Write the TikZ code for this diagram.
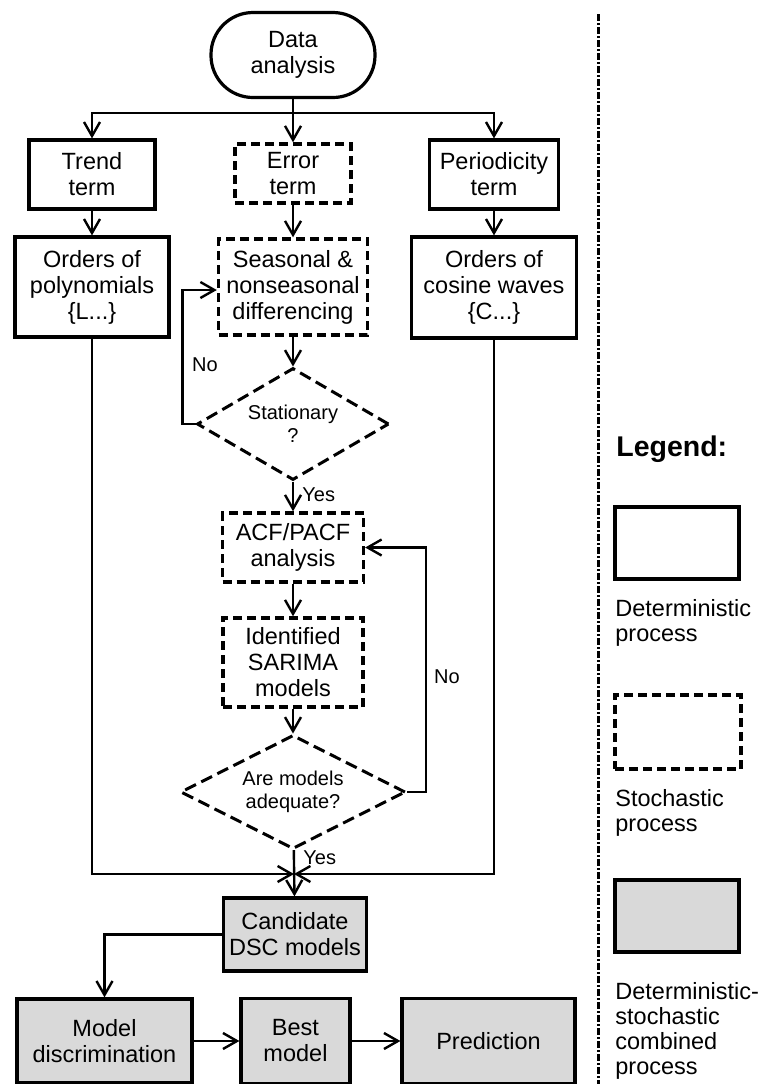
\documentclass[tikz,border=0pt]{standalone}
\usepackage{fontspec}
\setmainfont{Liberation Sans}
\usetikzlibrary{arrows.meta,shapes.geometric}

\definecolor{boxgray}{HTML}{D9D9D9}

\tikzset{
  proc/.style={draw, line width=1.6pt, align=center, inner sep=1pt,
    font=\fontsize{11.75pt}{13pt}\selectfont},
  stoch/.style={proc, line width=1.7pt, dash pattern=on 4.5pt off 2.5pt},
  comb/.style={proc, fill=boxgray},
  decide/.style={diamond, draw, line width=1.5pt, dash pattern=on 6pt off 3pt,
    aspect=2, inner sep=0pt, align=center, font=\fontsize{10pt}{11.5pt}\selectfont},
  flow/.style={line width=1.2pt, -{Straight Barb[length=7pt,width=8pt]}},
  link/.style={line width=1.2pt},
  lbl/.style={inner sep=0pt, font=\fontsize{10pt}{12pt}\selectfont},
  legtxt/.style={inner sep=0pt, align=left, font=\fontsize{11.75pt}{12.5pt}\selectfont},
}

\begin{document}
\begin{tikzpicture}[x=0.5pt,y=-0.5pt]
\useasboundingbox (0,0) rectangle (758,1084);

% three branches
\node[proc, rounded corners=21pt, minimum width=82pt, minimum height=42.5pt] (data) at (293,55) {Data\\analysis};
\node[proc, minimum width=63pt, minimum height=34.5pt] (trend) at (92,174.5) {Trend\\term};
\node[stoch, minimum width=58pt, minimum height=29.5pt] (error) at (293,173.5) {Error\\term};
\node[proc, minimum width=64.5pt, minimum height=34.5pt] (period) at (494,174.5) {Periodicity\\term};

\node[proc, minimum width=77pt, minimum height=50pt] (poly) at (92,287) {Orders of\\polynomials\\\{L...\}};
\node[stoch, minimum width=74.5pt, minimum height=48pt] (seas) at (293,287) {Seasonal \&\\nonseasonal\\differencing};
\node[proc, minimum width=82.5pt, minimum height=50.5pt] (cosine) at (494,287.5) {Orders of\\cosine waves\\\{C...\}};

% error term chain
\node[decide, minimum width=96pt, minimum height=56pt] (stat) at (293,424) {Stationary\\?};
\node[stoch, minimum width=70.5pt, minimum height=34.5pt] (acf) at (293,547.5) {ACF/PACF\\analysis};
\node[stoch, minimum width=70pt, minimum height=44.5pt] (sarima) at (293,662.5) {Identified\\SARIMA\\models};
\node[decide, minimum width=112.5pt, minimum height=57pt] (adeq) at (293,792) {Are models\\adequate?};

\node[comb, minimum width=71.5pt, minimum height=36.5pt] (cand) at (295,934.5) {Candidate\\DSC models};
\node[comb, minimum width=87.5pt, minimum height=42pt] (disc) at (104.5,1041) {Model\\discrimination};
\node[comb, minimum width=54.5pt, minimum height=42.5pt] (best) at (295.5,1041) {Best\\model};
\node[comb, minimum width=86.5pt, minimum height=42.5pt] (pred) at (488.5,1041) {Prediction};

\coordinate (split) at (293,113);
\coordinate (merge) at (294,874);

\draw[link] (data) -- (split);
\draw[flow] (split) -| (trend);
\draw[flow] (split) -| (period);
\draw[flow] (split) -- (error);

\draw[flow] (trend) -- (poly);
\draw[flow] (error) -- (seas);
\draw[flow] (period) -- (cosine);

\draw[flow] (seas) -- (stat);
\draw[flow] (stat.west) -- ++(-13,0) |- ([yshift=-1.5pt]seas.west);
\node[lbl] (no1) at (205,365) {No};
\draw[flow] (stat) -- (acf);
\node[lbl, anchor=west] (yes1) at (302,495) {Yes};

\draw[flow] (acf) -- (sarima);
\draw[flow] (sarima) -- (adeq);
\draw[flow] (adeq.east) -- ++(19,0) |- (acf.east);
\node[lbl] (no2) at (447,677) {No};
\draw[flow] (adeq) -- (cand);
\node[lbl, anchor=west] (yes2) at (303,858) {Yes};

\draw[flow] (poly) |- (merge);
\draw[flow] (cosine) |- (merge);

\draw[flow] (cand.west) -| (disc);
\draw[flow] (disc) -- (best);
\draw[flow] (best) -- (pred);

% legend
\draw[line width=1.5pt, dash pattern=on 3.5pt off 1pt on 1pt off 1pt] (598,14) -- (598,1084);
\node[anchor=west, inner sep=0pt, font=\fontsize{14.25pt}{16pt}\selectfont\bfseries] (legtitle) at (616,449) {Legend:};
\node[proc, minimum width=62pt, minimum height=36pt] (legdet) at (677,543) {};
\node[legtxt, anchor=north west] (legdettxt) at (615,599) {Deterministic\\process};
\node[stoch, minimum width=63pt, minimum height=37pt] (legsto) at (678,732) {};
\node[legtxt, anchor=north west] (legstotxt) at (615,789) {Stochastic\\process};
\node[comb, minimum width=62pt, minimum height=36pt] (legcomb) at (677,916) {};
\node[legtxt, anchor=north west] (legcombtxt) at (615,982) {Deterministic-\\stochastic\\combined\\process};
\end{tikzpicture}
\end{document}
